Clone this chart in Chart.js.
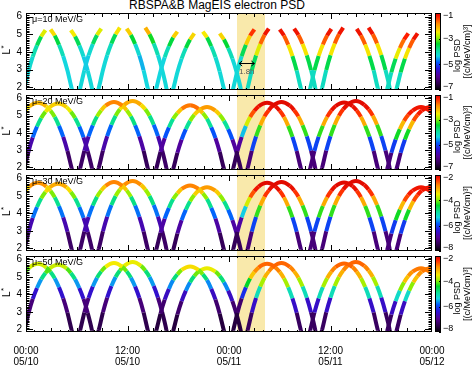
<!DOCTYPE html>
<html>
<head>
<meta charset="utf-8">
<script src="https://cdn.jsdelivr.net/npm/chart.js@4.4.1/dist/chart.umd.min.js"></script>
<style>
    body { margin: 0; width: 474px; height: 365px; background: #fff; position: relative; overflow: hidden; font-family: "Liberation Sans", Arial, sans-serif; }
    canvas { position: absolute; left: 0; }
    #title { position: absolute; left: 0; width: 434px; top: -2px; text-align: center; font-size: 12px; line-height: 14px; color: #000; }
    #band { position: absolute; background: #f9e9ab; }
</style>
</head>
<body>
<div id="band"></div>
<div id="title">RBSPA&amp;B MagEIS electron PSD</div>
<canvas id="p0" width="474" height="83" style="top:10px"></canvas>
<canvas id="p1" width="474" height="81" style="top:92px"></canvas>
<canvas id="p2" width="474" height="82" style="top:172px"></canvas>
<canvas id="p3" width="474" height="112" style="top:253px"></canvas>
<script>
// --- Axes / labels ---
const xTickHours = [0, 12, 24, 36, 48];
const xTickLabels = [['00:00', '05/10'], ['12:00', '05/10'], ['00:00', '05/11'], ['12:00', '05/11'], ['00:00', '05/12']];
const yTicks = [2, 3, 4, 5, 6];
const panelNames = ['\u03bc=10 MeV/G', '\u03bc=20 MeV/G', '\u03bc=30 MeV/G', '\u03bc=50 MeV/G'];
const psdRanges = [[-7, -1], [-7, -1], [-8, -2], [-8, -2]];
const psdTicks = [[-1, -3, -5, -7], [-1, -3, -5, -7], [-2, -4, -6, -8], [-2, -4, -6, -8]];
const bandHours = [25.0, 28.2];
const lagArrowHours = [25.2, 27.0];
const lagArrowL = 3.4;
const lagText = '1.8h';

// --- Probe A: hours since 05/10 00:00 and L* (one row per orbit) ---
const timeA = [
    -3.1, -2.6, -2.1, -1.6, -1.1, -0.6, -0.1, 0.4, 1.4, 2.4, 2.9, 3.4, 3.9, 4.4, 4.9, 5.4,
    5.9, 6.4, 6.9, 7.4, 7.9, 8.4, 8.9, 9.4, 10.4, 11.4, 11.9, 12.4, 12.9, 13.4, 13.9, 14.4,
    14.9, 15.4, 15.9, 16.4, 16.9, 17.4, 17.9, 18.4, 19.4, 20.4, 20.9, 21.4, 21.9, 22.4, 22.9, 23.4,
    24.0, 24.5, 25.0, 25.5, 26.0, 26.5, 27.0, 27.5, 28.5, 29.5, 30.0, 30.5, 31.0, 31.5, 32.0, 32.5,
    33.1, 33.6, 34.1, 34.6, 35.1, 35.6, 36.1, 36.6, 37.6, 38.6, 39.1, 39.6, 40.1, 40.6, 41.1, 41.6,
    42.2, 42.7, 43.2, 43.7, 44.2, 44.7, 45.2, 45.7, 46.7, 47.7, 48.2, 48.7, 49.2, 49.7, 50.2, 50.7
];
const lstarA = [
    1.1, 1.95, 2.95, 3.77, 4.41, 4.92, 5.28, 5.54, 5.75, 5.54, 5.28, 4.92, 4.41, 3.77, 2.95, 1.95,
    1.1, 1.95, 2.97, 3.8, 4.45, 4.96, 5.32, 5.58, 5.8, 5.58, 5.32, 4.96, 4.45, 3.8, 2.97, 1.95,
    1.1, 1.93, 2.9, 3.7, 4.32, 4.82, 5.15, 5.4, 5.6, 5.4, 5.15, 4.82, 4.32, 3.7, 2.9, 1.93,
    1.1, 1.95, 2.95, 3.77, 4.41, 4.92, 5.28, 5.54, 5.75, 5.54, 5.28, 4.92, 4.41, 3.77, 2.95, 1.95,
    1.1, 1.95, 2.96, 3.78, 4.42, 4.93, 5.3, 5.56, 5.77, 5.56, 5.3, 4.93, 4.42, 3.78, 2.96, 1.95,
    1.1, 1.9, 2.85, 3.62, 4.22, 4.7, 5.05, 5.3, 5.5, 5.3, 5.05, 4.7, 4.22, 3.62, 2.85, 1.9
];

// --- Probe B ---
const timeB = [
    -0.7, -0.2, 0.3, 0.8, 1.3, 1.8, 2.3, 2.8, 3.8, 4.8, 5.3, 5.8, 6.3, 6.8, 7.3, 7.8,
    8.1, 8.6, 9.1, 9.6, 10.1, 10.6, 11.1, 11.6, 12.6, 13.6, 14.1, 14.6, 15.1, 15.6, 16.1, 16.6,
    16.9, 17.4, 17.9, 18.4, 18.9, 19.4, 19.9, 20.4, 21.4, 22.4, 22.9, 23.4, 23.9, 24.4, 24.9, 25.4,
    25.7, 26.2, 26.7, 27.2, 27.7, 28.2, 28.7, 29.2, 30.2, 31.2, 31.7, 32.2, 32.7, 33.2, 33.7, 34.2,
    34.5, 35.0, 35.5, 36.0, 36.5, 37.0, 37.5, 38.0, 39.0, 40.0, 40.5, 41.0, 41.5, 42.0, 42.5, 43.0,
    43.3, 43.8, 44.3, 44.8, 45.3, 45.8, 46.3, 46.8, 47.8, 48.8, 49.3, 49.8, 50.3, 50.8, 51.3, 51.8
];
const lstarB = [
    1.1, 1.94, 2.93, 3.74, 4.37, 4.87, 5.23, 5.49, 5.7, 5.49, 5.23, 4.87, 4.37, 3.74, 2.93, 1.94,
    1.1, 1.96, 2.98, 3.82, 4.48, 5.0, 5.37, 5.63, 5.85, 5.63, 5.37, 5.0, 4.48, 3.82, 2.98, 1.96,
    1.1, 1.9, 2.85, 3.62, 4.22, 4.7, 5.05, 5.3, 5.5, 5.3, 5.05, 4.7, 4.22, 3.62, 2.85, 1.9,
    1.1, 1.95, 2.97, 3.8, 4.45, 4.96, 5.32, 5.58, 5.8, 5.58, 5.32, 4.96, 4.45, 3.8, 2.97, 1.95,
    1.1, 1.96, 2.98, 3.82, 4.48, 5.0, 5.37, 5.63, 5.85, 5.63, 5.37, 5.0, 4.48, 3.82, 2.98, 1.96,
    1.1, 1.9, 2.85, 3.62, 4.22, 4.7, 5.05, 5.3, 5.5, 5.3, 5.05, 4.7, 4.22, 3.62, 2.85, 1.9
];

// --- log PSD per panel (null = no data) ---
const psdA10 = [
    -4.3, -4.3, -4.3, -4.2, -3.9, -3.2, -1.8, null, null, null, -1.7, -3.1, -3.9, -4.3, -4.4, -4.3,
    -4.3, -4.3, -4.3, -4.5, -4.0, -3.3, -1.9, null, null, null, -1.6, -3.0, -3.9, -4.6, -4.4, -4.3,
    -4.3, -4.3, -4.4, -4.3, -3.9, -3.1, -1.5, null, null, null, -1.8, -3.2, -3.9, -4.2, -4.3, -4.3,
    -4.3, -4.3, -4.3, -4.2, -3.0, -1.6, -1.2, null, null, null, -1.1, -1.3, -1.9, -3.0, -4.1, -4.2,
    -4.2, -4.2, -4.1, -3.0, -1.9, -1.3, -1.1, null, null, null, -1.1, -1.3, -1.9, -3.0, -4.1, -4.2,
    -4.2, -4.2, -4.1, -3.1, -2.0, -1.4, -1.2, null, null, null, -1.2, -1.4, -2.0, -3.1, -4.1, -4.2
];
const psdB10 = [
    -4.3, -4.3, -4.3, -4.2, -3.9, -3.3, -1.9, null, null, null, -1.8, -3.2, -4.0, -4.5, -4.3, -4.3,
    -4.3, -4.3, -4.3, -4.3, -4.0, -3.2, -1.7, null, null, null, -1.3, -2.9, -3.8, -4.3, -4.3, -4.3,
    -4.3, -4.3, -4.3, -4.3, -3.9, -3.1, -1.6, null, null, null, -1.7, -3.0, -3.9, -4.3, -4.3, -4.3,
    -4.2, -4.2, -4.1, -3.2, -2.0, -1.3, -1.1, null, null, null, -1.1, -1.3, -1.9, -3.0, -4.1, -4.2,
    -4.2, -4.2, -4.1, -3.0, -1.9, -1.3, -1.1, null, null, null, -1.1, -1.3, -1.9, -3.0, -4.1, -4.2,
    -4.2, -4.2, -4.1, -3.0, -1.9, -1.3, -1.1, null, null, null, -1.1, -1.3, -1.9, -3.0, -4.1, -4.2
];
const psdA20 = [
    -6.4, -6.4, -6.2, -5.3, -4.3, -3.4, -2.6, -2.3, -2.0, -2.3, -2.6, -3.4, -4.3, -5.3, -6.2, -6.4,
    -6.4, -6.4, -6.2, -5.3, -4.3, -3.3, -2.5, -2.0, -1.6, -2.0, -2.5, -3.3, -4.3, -5.3, -6.3, -6.5,
    -6.5, -6.5, -6.3, -5.4, -4.4, -3.4, -2.5, -2.0, -1.5, -1.9, -2.5, -3.4, -4.4, -5.4, -6.3, -6.5,
    -6.5, -6.5, -6.3, -5.4, -3.5, -1.8, -1.3, -1.1, -1.1, -1.1, -1.2, -1.6, -2.5, -4.0, -6.0, -6.3,
    -6.3, -6.3, -6.0, -4.0, -2.5, -1.6, -1.2, -1.1, -1.1, -1.1, -1.2, -1.6, -2.5, -4.0, -6.0, -6.3,
    -6.3, -6.3, -6.0, -4.1, -2.6, -1.7, -1.3, -1.2, -1.2, -1.2, -1.3, -1.7, -2.6, -4.1, -6.0, -6.3
];
const psdB20 = [
    -6.4, -6.4, -6.2, -5.3, -4.3, -3.4, -2.7, -2.4, -2.2, -2.4, -2.7, -3.4, -4.3, -5.3, -6.2, -6.4,
    -6.4, -6.4, -6.2, -5.3, -4.3, -3.4, -2.6, -2.2, -1.9, -2.2, -2.6, -3.4, -4.3, -5.3, -6.2, -6.4,
    -6.5, -6.5, -6.3, -5.4, -4.4, -3.4, -2.5, -2.1, -1.8, -2.1, -2.5, -3.4, -4.4, -5.4, -6.3, -6.5,
    -6.3, -6.3, -6.0, -4.0, -2.5, -1.6, -1.2, -1.1, -1.1, -1.1, -1.2, -1.6, -2.5, -4.0, -6.0, -6.3,
    -6.3, -6.3, -6.0, -4.0, -2.5, -1.6, -1.2, -1.1, -1.1, -1.1, -1.2, -1.6, -2.5, -4.0, -6.0, -6.3,
    -6.3, -6.3, -6.0, -4.1, -2.6, -1.7, -1.3, -1.2, -1.2, -1.2, -1.3, -1.7, -2.6, -4.1, -6.0, -6.3
];
const psdA30 = [
    -7.4, -7.4, -7.2, -6.2, -5.3, -4.4, -3.6, -3.1, -2.7, -3.1, -3.6, -4.4, -5.3, -6.2, -7.2, -7.4,
    -7.4, -7.4, -7.2, -6.2, -5.3, -4.3, -3.5, -3.0, -2.6, -3.0, -3.5, -4.3, -5.3, -6.2, -7.2, -7.4,
    -7.5, -7.5, -7.3, -6.3, -5.3, -4.4, -3.5, -3.0, -2.6, -3.0, -3.5, -4.4, -5.3, -6.3, -7.3, -7.5,
    -7.5, -7.5, -7.3, -6.3, -4.5, -2.8, -2.3, -2.1, -2.1, -2.1, -2.2, -2.6, -3.5, -5.0, -7.0, -7.3,
    -7.3, -7.3, -7.0, -5.0, -3.5, -2.6, -2.2, -2.1, -2.1, -2.1, -2.2, -2.6, -3.5, -5.0, -7.0, -7.3,
    -7.3, -7.3, -7.0, -5.1, -3.6, -2.7, -2.3, -2.2, -2.2, -2.2, -2.3, -2.7, -3.6, -5.1, -7.0, -7.3
];
const psdB30 = [
    -7.4, -7.4, -7.2, -6.2, -5.3, -4.4, -3.6, -3.2, -2.9, -3.2, -3.6, -4.4, -5.3, -6.2, -7.2, -7.4,
    -7.4, -7.4, -7.2, -6.2, -5.3, -4.3, -3.5, -3.0, -2.7, -3.0, -3.5, -4.3, -5.3, -6.2, -7.2, -7.4,
    -7.5, -7.5, -7.3, -6.3, -5.3, -4.4, -3.5, -3.1, -2.8, -3.1, -3.5, -4.4, -5.3, -6.3, -7.3, -7.5,
    -7.3, -7.3, -7.0, -5.0, -3.5, -2.6, -2.2, -2.1, -2.1, -2.1, -2.2, -2.6, -3.5, -5.0, -7.0, -7.3,
    -7.3, -7.3, -7.0, -5.0, -3.5, -2.6, -2.2, -2.1, -2.1, -2.1, -2.2, -2.6, -3.5, -5.0, -7.0, -7.3,
    -7.3, -7.3, -7.0, -5.1, -3.6, -2.7, -2.3, -2.2, -2.2, -2.2, -2.3, -2.7, -3.6, -5.1, -7.0, -7.3
];
const psdA50 = [
    -7.6, -7.6, -7.4, -6.9, -6.0, -5.2, -4.4, -3.9, -3.4, -3.9, -4.4, -5.2, -6.0, -6.9, -7.4, -7.6,
    -7.6, -7.6, -7.4, -6.9, -6.0, -5.2, -4.3, -3.8, -3.2, -3.8, -4.3, -5.2, -6.0, -6.9, -7.4, -7.6,
    -7.7, -7.7, -7.5, -7.0, -6.1, -5.2, -4.3, -3.7, -3.1, -3.7, -4.3, -5.2, -6.1, -7.0, -7.5, -7.7,
    -7.7, -7.7, -7.5, -7.0, -5.3, -3.5, -3.0, -2.7, -2.6, -2.7, -2.9, -3.3, -4.4, -5.8, -7.2, -7.5,
    -7.5, -7.5, -7.2, -5.8, -4.4, -3.3, -2.9, -2.7, -2.6, -2.7, -2.9, -3.3, -4.4, -5.8, -7.2, -7.5,
    -7.5, -7.5, -7.2, -5.9, -4.5, -3.4, -3.0, -2.8, -2.7, -2.8, -3.0, -3.4, -4.5, -5.9, -7.2, -7.5
];
const psdB50 = [
    -7.6, -7.6, -7.4, -6.9, -6.0, -5.2, -4.4, -3.9, -3.5, -3.9, -4.4, -5.2, -6.0, -6.9, -7.4, -7.6,
    -7.6, -7.6, -7.4, -6.9, -6.0, -5.2, -4.3, -3.8, -3.3, -3.8, -4.3, -5.2, -6.0, -6.9, -7.4, -7.6,
    -7.7, -7.7, -7.5, -7.0, -6.1, -5.2, -4.3, -3.8, -3.3, -3.8, -4.3, -5.2, -6.1, -7.0, -7.5, -7.7,
    -7.5, -7.5, -7.2, -5.8, -4.4, -3.3, -2.9, -2.7, -2.6, -2.7, -2.9, -3.3, -4.4, -5.8, -7.2, -7.5,
    -7.5, -7.5, -7.2, -5.8, -4.4, -3.3, -2.9, -2.7, -2.6, -2.7, -2.9, -3.3, -4.4, -5.8, -7.2, -7.5,
    -7.5, -7.5, -7.2, -5.9, -4.5, -3.4, -3.0, -2.8, -2.7, -2.8, -3.0, -3.4, -4.5, -5.9, -7.2, -7.5
];
const psdA = [psdA10, psdA20, psdA30, psdA50];
const psdB = [psdB10, psdB20, psdB30, psdB50];

// --- Colour table (black -> purple -> blue -> cyan -> green -> yellow -> red) ---
const cmapStops = [
    [0.00, 0, 0, 0], [0.08, 45, 0, 75], [0.18, 85, 0, 150], [0.28, 40, 20, 220],
    [0.36, 0, 90, 255], [0.44, 20, 215, 225], [0.52, 10, 225, 150], [0.60, 0, 215, 40],
    [0.68, 150, 240, 0], [0.75, 245, 235, 0], [0.86, 255, 140, 0], [0.95, 255, 30, 0], [1.00, 210, 0, 0]
];
const FONT = '"Liberation Sans", Arial, sans-serif';

function psdColor(v, range) {
    let f = (v - range[0]) / (range[1] - range[0]);
    f = Math.max(0, Math.min(1, f));
    for (let i = 1; i < cmapStops.length; i++) {
        const a = cmapStops[i - 1], b = cmapStops[i];
        if (f <= b[0]) {
            const u = (f - a[0]) / (b[0] - a[0]);
            const c = [1, 2, 3].map(j => Math.round(a[j] + u * (b[j] - a[j])));
            return `rgb(${c[0]},${c[1]},${c[2]})`;
        }
    }
    return 'rgb(210,0,0)';
}

function makeSet(times, lstar, psd, range) {
    return {
        data: times.map((t, k) => ({ x: t, y: psd[k] === null ? null : lstar[k] })),
        borderWidth: 4,
        pointRadius: 0,
        spanGaps: false,
        cubicInterpolationMode: 'monotone',
        borderJoinStyle: 'round',
        clip: 0,
        segment: {
            borderColor: c => psdColor((psd[c.p0DataIndex] + psd[c.p1DataIndex]) / 2, range)
        }
    };
}

// --- Frame, inward ticks, colour bar, labels ---
const framePlugin = {
    id: 'frame',
    afterDatasetsDraw(chart, args, opts) {
        const { ctx, chartArea: a, scales: { x, y } } = chart;
        const p = opts.panel;
        ctx.save();
        ctx.strokeStyle = '#000';
        ctx.lineWidth = 1;
        ctx.strokeRect(a.left + 0.5, a.top + 0.5, a.width - 1, a.height - 1);
        ctx.beginPath();
        for (let k = 19; k <= 62; k++) {
            const py = Math.round(y.getPixelForValue(k / 10)) + 0.5;
            const len = k % 10 === 0 ? 7 : 3.5;
            ctx.moveTo(a.left, py); ctx.lineTo(a.left + len, py);
            ctx.moveTo(a.right, py); ctx.lineTo(a.right - len, py);
        }
        for (let h = 1; h < 48; h++) {
            const px = Math.round(x.getPixelForValue(h)) + 0.5;
            const len = h % 12 === 0 ? 6 : (h % 3 === 0 ? 4 : 2);
            ctx.moveTo(px, a.top); ctx.lineTo(px, a.top + len);
            ctx.moveTo(px, a.bottom); ctx.lineTo(px, a.bottom - len);
        }
        ctx.stroke();

        // panel label
        ctx.fillStyle = '#000';
        ctx.font = '9px ' + FONT;
        ctx.textBaseline = 'middle';
        ctx.textAlign = 'left';
        ctx.fillText(panelNames[p], a.left + 6, a.top + 6.5);

        // L* axis title
        ctx.save();
        ctx.translate(7, (a.top + a.bottom) / 2 + 3);
        ctx.rotate(-Math.PI / 2);
        ctx.font = '10px ' + FONT;
        ctx.fillText('L', 0, 0);
        ctx.font = '8px ' + FONT;
        ctx.fillText('*', 6, -3);
        ctx.restore();

        // colour bar
        const range = psdRanges[p];
        const cbx = 435, cbw = 6;
        for (let py = a.top; py < a.bottom; py++) {
            const v = range[1] - (py + 0.5 - a.top) / a.height * (range[1] - range[0]);
            ctx.fillStyle = psdColor(v, range);
            ctx.fillRect(cbx, py, cbw, 1);
        }
        ctx.strokeRect(cbx + 0.5, a.top + 0.5, cbw - 1, a.height - 1);
        ctx.fillStyle = '#000';
        ctx.font = '9px ' + FONT;
        ctx.textAlign = 'left';
        psdTicks[p].forEach(v => {
            let py = a.top + (range[1] - v) / (range[1] - range[0]) * a.height;
            ctx.beginPath();
            ctx.moveTo(cbx + cbw, Math.round(py) + 0.5); ctx.lineTo(cbx + cbw - 2, Math.round(py) + 0.5);
            ctx.stroke();
            py = Math.max(a.top + 3, Math.min(a.bottom - 3, py));
            ctx.fillText('\u2212' + Math.abs(v), cbx + cbw + 2, py);
        });
        ctx.save();
        ctx.translate(458, (a.top + a.bottom) / 2);
        ctx.rotate(-Math.PI / 2);
        ctx.textAlign = 'center';
        ctx.fillText('log PSD', -4, 0);
        ctx.fillText('[(c/MeV/cm)\u00b3]', 0, 10);
        ctx.restore();

        // orbit lag marker in the first panel
        if (p === 0) {
            const x1 = x.getPixelForValue(lagArrowHours[0]);
            const x2 = x.getPixelForValue(lagArrowHours[1]);
            const ly = Math.round(y.getPixelForValue(lagArrowL)) + 0.5;
            ctx.beginPath();
            ctx.moveTo(x1, ly); ctx.lineTo(x2, ly);
            ctx.moveTo(x1 + 3, ly - 2.5); ctx.lineTo(x1, ly); ctx.lineTo(x1 + 3, ly + 2.5);
            ctx.moveTo(x2 - 3, ly - 2.5); ctx.lineTo(x2, ly); ctx.lineTo(x2 - 3, ly + 2.5);
            ctx.stroke();
            ctx.fillStyle = '#555';
            ctx.font = '8px ' + FONT;
            ctx.textAlign = 'center';
            ctx.fillText(lagText, (x1 + x2) / 2, ly + 8);
        }
        ctx.restore();
    }
};

const charts = [];
for (let p = 0; p < 4; p++) {
    const bottomPanel = p === 3;
    charts.push(new Chart(document.getElementById('p' + p), {
        type: 'line',
        data: { datasets: [makeSet(timeA, lstarA, psdA[p], psdRanges[p]), makeSet(timeB, lstarB, psdB[p], psdRanges[p])] },
        options: {
            responsive: false,
            animation: false,
            events: [],
            layout: { padding: { left: 0, right: 42, top: 3, bottom: bottomPanel ? 0 : 3 } },
            plugins: { legend: { display: false }, tooltip: { enabled: false }, frame: { panel: p } },
            scales: {
                x: {
                    type: 'linear', min: 0, max: 48, display: bottomPanel,
                    grid: { display: false, drawTicks: false }, border: { display: false },
                    afterBuildTicks: s => { s.ticks = xTickHours.map(v => ({ value: v })); },
                    afterFit: s => {
                        s.height = bottomPanel ? 33 : 0;
                        s.paddingLeft = 0; s.paddingRight = 0;
                    },
                    ticks: {
                        autoSkip: false, maxRotation: 0, padding: 14, color: '#000',
                        font: { size: 10, family: FONT, lineHeight: 1.05 },
                        callback: (v, i) => xTickLabels[i]
                    }
                },
                y: {
                    min: 1.85, max: 6.2,
                    grid: { display: false, drawTicks: false }, border: { display: false },
                    afterBuildTicks: s => { s.ticks = yTicks.map(v => ({ value: v })); },
                    afterFit: s => { s.width = 26; s.paddingTop = 0; s.paddingBottom = 0; },
                    ticks: { padding: 4, color: '#000', font: { size: 10, family: FONT } }
                }
            }
        },
        plugins: [framePlugin]
    }));
}

// --- Shaded interval across all panels ---
const sx = charts[3].scales.x;
const band = document.getElementById('band');
band.style.left = sx.getPixelForValue(bandHours[0]) + 'px';
band.style.width = (sx.getPixelForValue(bandHours[1]) - sx.getPixelForValue(bandHours[0])) + 'px';
band.style.top = (10 + charts[0].chartArea.top) + 'px';
band.style.height = (253 + charts[3].chartArea.bottom - 10 - charts[0].chartArea.top) + 'px';
</script>
</body>
</html>
